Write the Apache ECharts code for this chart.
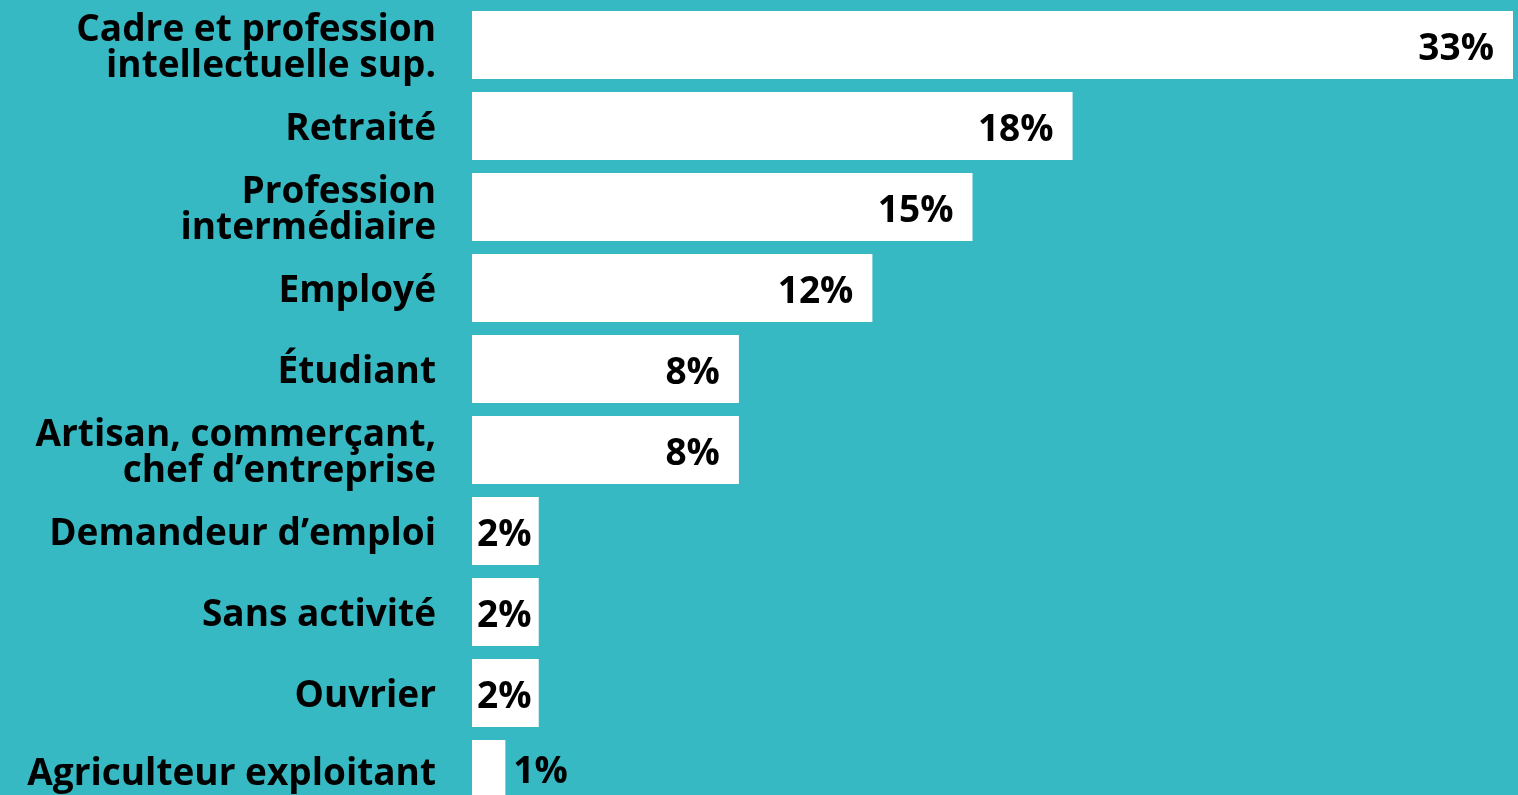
<!DOCTYPE html>
<html>
<head>
<meta charset="utf-8">
<script src="https://cdn.jsdelivr.net/npm/echarts@6/dist/echarts.min.js"></script>
<style>
  html, body { margin: 0; padding: 0; background: #37b9c3; overflow: hidden; }
  #main { width: 1518px; height: 815px; }
</style>
</head>
<body>
<div id="main"></div>
<script>
// catégories socio-professionnelles
var categories = [
  "Cadre et profession\nintellectuelle sup.",
  "Retraité",
  "Profession\nintermédiaire",
  "Employé",
  "Étudiant",
  "Artisan, commerçant,\nchef d’entreprise",
  "Demandeur d’emploi",
  "Sans activité",
  "Ouvrier",
  "Agriculteur exploitant"
];
// parts en %
var values = [33, 18, 15, 12, 8, 8, 2, 2, 2, 1];

var myChart = echarts.init(document.getElementById("main"));

var seriesData = values.map(function (v) {
  var item = { value: v };
  if (v < 2) {
    item.label = { position: "right", distance: 8, offset: [0, -2] };
  } else if (v <= 2) {
    item.label = { position: "insideLeft", distance: 5 };
  }
  return item;
});

var option = {
  backgroundColor: "#37b9c3",
  animation: false,
  grid: {
    left: 472,
    right: 5,
    top: 4.5,
    bottom: 0.5
  },
  xAxis: {
    type: "value",
    min: 0,
    max: 31.2,
    show: false,
    splitLine: { show: false }
  },
  yAxis: {
    type: "category",
    inverse: true,
    data: categories,
    axisLine: { show: false },
    axisTick: { show: false },
    axisLabel: {
      margin: 36,
      align: "right",
      // petite ligne vide au-dessus pour descendre le texte de quelques px
      formatter: function (value, index) {
        var txt = value.split("\n").map(function (l) {
          return "{a|" + l + "}";
        }).join("\n");
        return index === categories.length - 1 ? txt : "{s| }\n" + txt;
      },
      rich: {
        s: { fontSize: 1, lineHeight: 7 },
        a: {
          color: "#000",
          fontFamily: "Open Sans",
          fontWeight: "bold",
          fontSize: 37,
          lineHeight: 36,
          align: "right"
        }
      }
    }
  },
  series: [
    {
      type: "bar",
      data: seriesData,
      barWidth: 68,
      clip: true,
      itemStyle: { color: "#fff" },
      label: {
        show: true,
        position: "insideRight",
        distance: 19,
        offset: [0, 4],
        formatter: "{c}%",
        color: "#000",
        fontFamily: "Open Sans",
        fontWeight: "bold",
        fontSize: 37
      }
    }
  ]
};

myChart.setOption(option);
</script>
</body>
</html>
